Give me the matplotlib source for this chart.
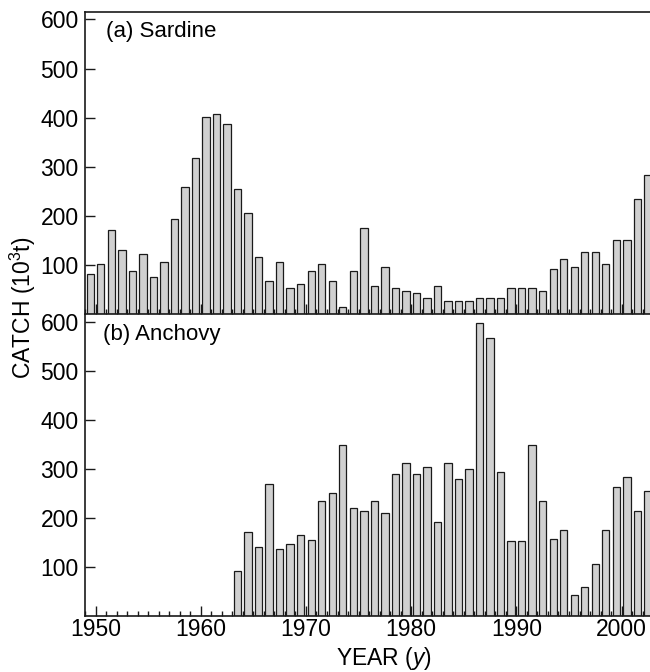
import matplotlib.pyplot as plt
import numpy as np

plt.rcParams['font.family'] = ['Liberation Sans', 'DejaVu Sans']
plt.rcParams['mathtext.fontset'] = 'custom'
plt.rcParams['mathtext.rm'] = 'Liberation Sans'
plt.rcParams['mathtext.it'] = 'Liberation Sans:italic'

# catch in 10^3 t, years 1949 - 2002
years = np.arange(1949, 2003)
sardine = [83, 102, 172, 132, 88, 122, 77, 107, 195, 259,
           318, 401, 407, 387, 255, 206, 117, 68, 107, 53,
           63, 88, 102, 68, 15, 88, 176, 58, 97, 53,
           48, 43, 34, 58, 28, 28, 28, 34, 34, 34,
           53, 53, 53, 48, 92, 112, 97, 127, 127, 102,
           151, 151, 235, 284]
# anchovy: no catch before 1963
anchovy = [0] * 14 + [92, 171, 141, 269, 137, 147, 166, 156, 235, 250,
                      348, 220, 215, 235, 210, 289, 313, 289, 303, 191,
                      313, 279, 299, 597, 568, 294, 152, 152, 348, 235,
                      157, 176, 43, 59, 107, 176, 264, 284, 215, 254]
panel_names = ['(a) Sardine', '(b) Anchovy']
yticks = [100, 200, 300, 400, 500, 600]

fs = 16.5
fig = plt.figure(figsize=(6.5, 6.72), dpi=100)
left, right = 85 / 650, 1.0
ax1 = fig.add_axes([left, 1 - 314.5 / 672, right - left, 302.5 / 672])
ax2 = fig.add_axes([left, 1 - 616 / 672, right - left, 301.5 / 672])

for ax, data, name, tx in [(ax1, sardine, panel_names[0], 0.038),
                           (ax2, anchovy, panel_names[1], 0.032)]:
    d = np.array(data)
    m = d > 0
    ax.bar(years[m] + 0.5, d[m], width=0.7, color='#d0d0d0',
           edgecolor='#1a1a1a', linewidth=0.9, zorder=2)
    ax.set_xlim(1949, 2002.7)
    ax.set_ylim(0, 615)
    ax.set_yticks(yticks)
    ax.set_xticks(np.arange(1950, 2001, 10))
    ax.set_xticks(np.arange(1949, 2003), minor=True)
    ax.tick_params(axis='both', which='major', direction='in', length=7,
                   width=1, labelsize=fs, color='#1a1a1a', pad=4.5)
    ax.tick_params(axis='x', which='minor', direction='in', length=3.5,
                   width=1, color='#1a1a1a')
    ax.tick_params(axis='x', which='major', pad=1.5)
    ax.tick_params(top=False, right=False, which='both')
    ax.spines['right'].set_visible(False)
    for s in ['left', 'bottom', 'top']:
        ax.spines[s].set_linewidth(1.2)
        ax.spines[s].set_color('#1a1a1a')
    ax.text(tx, 0.934, name, transform=ax.transAxes, fontsize=fs - 0.5,
            va='center', ha='left')

ax1.tick_params(axis='x', labelbottom=False)
ax2.spines['top'].set_visible(False)

fig.text(0.035, 0.5417, 'CATCH (10$^{3}$t)', rotation=90, ha='center',
         va='center', fontsize=fs)
fig.text(0.591, 1 - 665 / 672, 'YEAR ($y$)', ha='center', va='baseline',
         fontsize=fs)

fig.savefig('out.png', dpi=100)
